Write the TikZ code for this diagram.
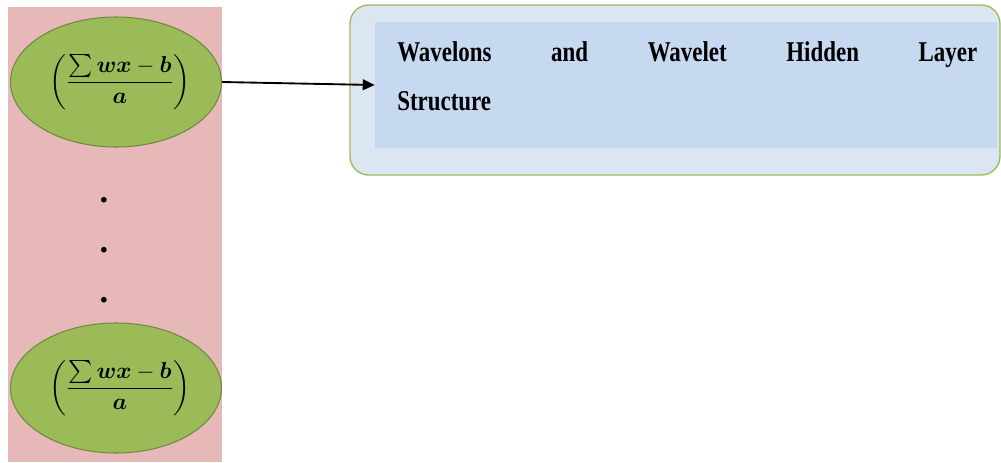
\documentclass[tikz,border=0pt]{standalone}
\usepackage{fontspec}
\setmainfont{Liberation Serif}
\newfontfamily\condserif{Liberation Serif}[FakeStretch=0.8]
\usepackage{amsmath}
\usepackage{bm}
\usetikzlibrary{shapes.geometric,arrows.meta}
\definecolor{pinkbg}{HTML}{E6B9B8}
\definecolor{wgreen}{HTML}{9BBB59}
\definecolor{wgreendark}{HTML}{71893F}
\definecolor{outerfill}{HTML}{DCE6F2}
\definecolor{innerfill}{HTML}{C6D9F1}
\tikzset{
  wavelon/.style={ellipse, fill=wgreen, draw=wgreendark, line width=0.8pt, minimum width=211*0.75pt, minimum height=130*0.75pt, inner sep=0pt},
  outerbox/.style={rectangle, rounded corners=14pt, fill=outerfill, draw=wgreen, line width=1pt, minimum width=650*0.75pt, minimum height=170*0.75pt, inner sep=0pt},
  innerbox/.style={rectangle, fill=innerfill, minimum width=622*0.75pt, minimum height=126*0.75pt, inner sep=0pt},
  bigtext/.style={font=\condserif\fontsize{21.5}{25}\selectfont\bfseries, inner sep=0pt},
  dotmark/.style={font=\fontsize{26}{30}\selectfont\bfseries, inner sep=0pt},
  formula/.style={inner sep=0pt, xshift=3pt},
  conn/.style={-{Triangle[length=9pt,width=8pt]}, line width=1.4pt}
}
\newcommand{\wformula}{{\fontsize{16}{19}\selectfont$\displaystyle\left(\frac{\sum \bm{wx}-\bm{b}}{\bm{a}}\right)$}}
\begin{document}
\begin{tikzpicture}[x=0.75pt,y=-0.75pt]
\useasboundingbox (0,0) rectangle (1001,462);
\fill[pinkbg] (8,7) rectangle (222,462);
\node[wavelon, label={[formula]center:\wformula}] (w1) at (116,82) {};
\node[wavelon, label={[formula]center:\wformula}] (w2) at (116,388) {};
\node[dotmark, anchor=base] (d1) at (104,202) {.};
\node[dotmark, anchor=base] (d2) at (104,252) {.};
\node[dotmark, anchor=base] (d3) at (104,302) {.};
\node[outerbox] (outer) at (675,90) {};
\node[innerbox] (inner) at (686,85) {};
\node[bigtext, anchor=base west] (t1) at (397,61) {\makebox[435pt][s]{Wavelons and Wavelet Hidden Layer}};
\node[bigtext, anchor=base west] (t2) at (397,110) {Structure};
\draw[conn] (w1.east) -- (inner.west);
\end{tikzpicture}
\end{document}
